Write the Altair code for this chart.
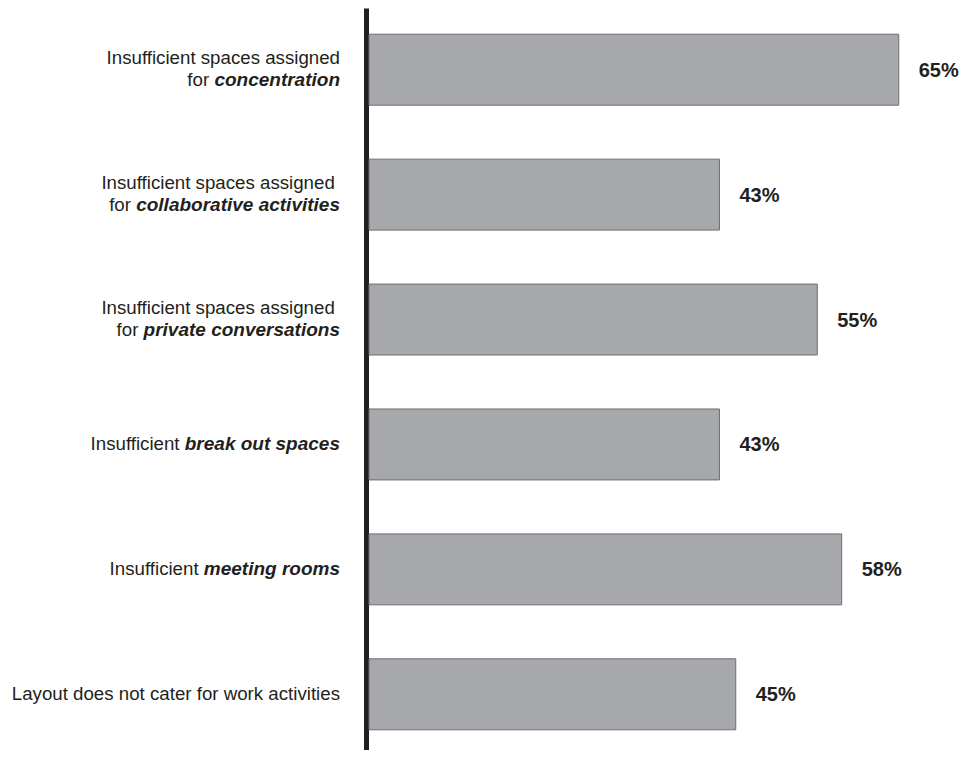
import altair as alt
import pandas as pd

# ---- data ----
categories = [
    "Insufficient spaces assigned for concentration",
    "Insufficient spaces assigned for collaborative activities",
    "Insufficient spaces assigned for private conversations",
    "Insufficient break out spaces",
    "Insufficient meeting rooms",
    "Layout does not cater for work activities",
]
values = [65, 43, 55, 43, 58, 45]

# label lines: list of lines, each line a list of (text, bold_italic)
label_lines = [
    [[("Insufficient spaces assigned", False)], [("for ", False), ("concentration", True)]],
    [[("Insufficient spaces assigned ", False)], [("for ", False), ("collaborative activities", True)]],
    [[("Insufficient spaces assigned ", False)], [("for ", False), ("private conversations", True)]],
    [[("Insufficient ", False), ("break out spaces", True)]],
    [[("Insufficient ", False), ("meeting rooms", True)]],
    [[("Layout does not cater for work activities", False)]],
]

# ---- styling ----
LABEL_SIZE = 18.7
BOLD_SIZE = 19
VALUE_SIZE = 20
TEXT_COLOR = "#231f20"
BAR_FILL = "#a7a8ab"
BAR_STROKE = "#6d6e70"
LABEL_GAP = 29  # px between label right edge and the axis

# Helvetica/Arial bold widths (per 1000 em) for measuring bold-italic runs
BOLD_W = {
    "a": 556, "b": 611, "c": 556, "d": 611, "e": 556, "f": 333, "g": 611, "h": 611,
    "i": 278, "j": 278, "k": 556, "l": 278, "m": 889, "n": 611, "o": 611, "p": 611,
    "q": 611, "r": 389, "s": 556, "t": 333, "u": 611, "v": 556, "w": 778, "x": 556,
    "y": 556, "z": 500, " ": 278,
}
SPACE_W = 278


def bold_width(text):
    return sum(BOLD_W.get(ch, 556) for ch in text) * BOLD_SIZE / 1000


rows = []
for cat, lines in zip(categories, label_lines):
    n = len(lines)
    for li, pieces in enumerate(lines):
        pos = -LABEL_GAP
        for text, bold in reversed(pieces):
            stripped = text.rstrip(" ")
            trail = len(text) - len(stripped)
            right = pos - trail * SPACE_W * LABEL_SIZE / 1000
            rows.append({
                "cat": cat,
                "text": stripped,
                "bold": bold,
                "px": right,
                "line": li,
                "nlines": n,
            })
            if bold:
                pos -= bold_width(text)

labels = pd.DataFrame(rows)
bars = pd.DataFrame({"cat": categories, "value": values,
                     "label": [f"{v}%" for v in values]})

W, H = 591, 742
PX_PER_UNIT = 8.15
yscale = alt.Scale(domain=categories, range=[0, 748], paddingInner=0.432, paddingOuter=0.21)
xscale = alt.Scale(domain=[0, W / PX_PER_UNIT])

base = alt.Chart(bars)

bar = base.mark_bar(fill=BAR_FILL, stroke=BAR_STROKE, strokeWidth=1).encode(
    x=alt.X("value:Q", scale=xscale, axis=None),
    y=alt.Y("cat:N", scale=yscale, sort=categories,
            axis=alt.Axis(labels=False, ticks=False, title=None, domain=True,
                          domainColor="#231f20", domainWidth=5, offset=3)),
)

vals = base.mark_text(align="left", baseline="middle", dx=20, dy=1,
                      font="Liberation Sans", fontWeight="bold",
                      fontSize=VALUE_SIZE, color=TEXT_COLOR).encode(
    x=alt.X("value:Q", scale=xscale),
    y=alt.Y("cat:N", scale=yscale, sort=categories),
    text="label:N",
)

layers = [bar, vals]
for bold in (False, True):
    for n, li, dy in [(1, 0, 0), (2, 0, -11.5), (2, 1, 10.5)]:
        sub = labels[(labels["bold"] == bold) & (labels["nlines"] == n) & (labels["line"] == li)]
        if len(sub) == 0:
            continue
        layers.append(
            alt.Chart(sub).mark_text(
                align="right", baseline="middle", dy=dy,
                font="Liberation Sans",
                fontSize=BOLD_SIZE if bold else LABEL_SIZE,
                fontWeight="bold" if bold else "normal",
                fontStyle="italic" if bold else "normal",
                color=TEXT_COLOR,
            ).encode(
                x=alt.X("px:Q", scale=None),
                y=alt.Y("cat:N", scale=yscale, sort=categories),
                text="text:N",
            )
        )

chart = alt.layer(*layers).properties(
    width=W, height=H,
    background="white",
    autosize=alt.AutoSizeParams(type="none"),
    padding={"left": 361, "top": 0, "right": 0, "bottom": 0},
).configure_view(stroke=None)

chart.save("out.html", embed_options={"renderer": "svg", "actions": False})
